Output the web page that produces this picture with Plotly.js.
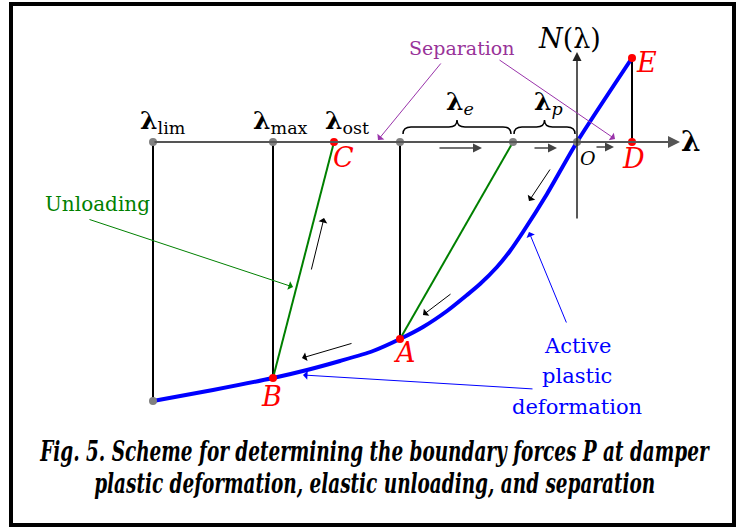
<!DOCTYPE html>
<html>
<head>
<meta charset="utf-8">
<script src="https://cdn.plot.ly/plotly-3.0.1.min.js"></script>
<style>html,body{margin:0;padding:0;background:#fff}#chart{width:736px;height:528px}</style>
</head>
<body>
<div id="chart"></div>
<script>
// Coordinates: lambda (horizontal) and N (vertical), origin at O
var curveLam = [-424,-364,-304,-270,-237,-204,-177,-154,-130,-110,-97,-80,-67,-54,-30,0,55];
var curveN   = [-259,-248,-236,-228,-219,-209,-197,-185,-169,-153,-142,-125,-109,-90,-52,0,84];

var lamLim = -424, lamMax = -304, lamOst = -243, lamA = -177, lamE = -64, lamD = 55;
var nB = -236, nA = -197, nLimBottom = -259, nE = 84;

var greyDotLam = [lamLim, lamMax, lamA, lamE, 0, lamLim];
var greyDotN   = [0, 0, 0, 0, 0, nLimBottom];
var redDotLam  = [lamOst, lamD, lamD, lamA, lamMax];
var redDotN    = [0, 0, nE, nA, nB];
var redLabels  = ['C','D','E','A','B'];
var redLabelLam = [-234, 56, 69, -173, -306];
var redLabelN   = [-15, -16, 80, -210, -254];

var topLabels = ['<b>λ</b><sub>lim</sub>','<b>λ</b><sub>max</sub>','<b>λ</b><sub>ost</sub>'];
var topLabelLam = [-414, -297, -230];

var activeLines = ['Active','plastic','deformation'];
var activeLineN = [-204, -234, -265];

var captionLines = ['Fig. 5. Scheme for determining the boundary forces P at damper',
                    'plastic deformation, elastic unloading, and separation'];
var captionN = [-309, -341];

// direction arrows: [tailLam, tailN, headLam, headN]
var axisArrows = [[-139,-6,-95,-6],[-44,-6,-20,-6],[18,-5,37,-5]];
var pathArrows = [[-26,-26,-48,-59],[-125,-151,-154,-173],[-224,-201,-275,-216],[-266,-129,-253,-76]];
var sepArrows = [[-135,80,-199,2],[-79,83,38,3]];
var unloadArrow = [-489,-77,-284,-145];
var activeArrows = [[-10,-182,-48,-90],[-43,-247,-274,-233]];

var braces = [[-174,-66],[-63,-2]];

var serif = 'DejaVu Serif';
var condensed = 'DejaVu Serif Condensed';

var traces = [
  {x:[lamLim,lamLim], y:[0,nLimBottom], mode:'lines', line:{color:'#000',width:2}},
  {x:[lamMax,lamMax], y:[0,nB], mode:'lines', line:{color:'#000',width:2}},
  {x:[lamA,lamA], y:[0,nA], mode:'lines', line:{color:'#000',width:2}},
  {x:[lamD,lamD], y:[0,nE], mode:'lines', line:{color:'#000',width:2}},
  {x:[lamOst,lamMax], y:[0,nB], mode:'lines', line:{color:'#008000',width:2}},
  {x:[lamE,lamA], y:[0,nA], mode:'lines', line:{color:'#008000',width:2}},
  {x:curveLam, y:curveN, mode:'lines', line:{color:'#0000ff',width:4, shape:'spline', smoothing:0.7}},
  {x:greyDotLam, y:greyDotN, mode:'markers', marker:{color:'#808080',size:8}},
  {x:redDotLam, y:redDotN, mode:'markers', marker:{color:'#ff0000',size:8}}
];

function arrowAnn(a, color, width, head, size) {
  return {x:a[2], y:a[3], ax:a[0], ay:a[1], xref:'x', yref:'y', axref:'x', ayref:'y',
          text:'', showarrow:true, arrowhead:head, arrowsize:size, arrowwidth:width,
          arrowcolor:color, standoff:0, startstandoff:0};
}

var ann = [];
ann.push(arrowAnn([lamLim,0,103,0], '#555', 2, 2, 1.2));
ann.push(arrowAnn([0,-78,0,90], '#222', 1.5, 2, 1.2));
axisArrows.forEach(function(a){ann.push(arrowAnn(a,'#444',1.5,2,1.2));});
pathArrows.forEach(function(a){ann.push(arrowAnn(a,'#000',1,1,1.5));});
sepArrows.forEach(function(a){ann.push(arrowAnn(a,'#9933aa',1,1,1.5));});
ann.push(arrowAnn(unloadArrow,'#008000',1,1,1.5));
activeArrows.forEach(function(a){ann.push(arrowAnn(a,'#0000ff',1,1,1.5));});

function txt(t, x, y, size, color, fam) {
  return {x:x, y:y, xref:'x', yref:'y', text:t, showarrow:false,
          font:{family:fam||serif, size:size, color:color}, xanchor:'center', yanchor:'middle'};
}
for (var i=0;i<redLabels.length;i++) ann.push(txt('<i>'+redLabels[i]+'</i>', redLabelLam[i], redLabelN[i], 27, '#ff0000'));
for (var j=0;j<topLabels.length;j++) ann.push(txt(topLabels[j], topLabelLam[j], 20, 25, '#000'));
ann.push(txt('<i>O</i>', 11, -16, 19, '#000'));
ann.push(txt('<b>λ</b>', 114, 1, 28, '#000'));
ann.push(txt('<i>N</i>(λ)', -8, 104, 27, '#000'));
ann.push(txt('<b>λ</b><sub><i>e</i></sub>', -117, 39, 25, '#000'));
ann.push(txt('<b>λ</b><sub><i>p</i></sub>', -29, 39, 25, '#000'));
ann.push(txt('Separation', -115, 94, 19, '#993399'));
ann.push(txt('Unloading', -480, -62, 20, '#008000'));
for (var k=0;k<activeLines.length;k++) ann.push(txt(activeLines[k], 0, activeLineN[k], 21, '#0000ff'));
var captionStart = ann.length;
for (var c=0;c<captionLines.length;c++) ann.push(txt('<b><i>'+captionLines[c]+'</i></b>', -203, captionN[c], 20.5, '#000', condensed));

function bracePath(x1, x2) {
  var y0 = 8, ym = 15, yt = 22, r = 8, m = (x1+x2)/2;
  return 'M'+x1+','+y0+' Q'+x1+','+ym+' '+(x1+r)+','+ym+' L'+(m-r)+','+ym+
         ' Q'+m+','+ym+' '+m+','+yt+' Q'+m+','+ym+' '+(m+r)+','+ym+
         ' L'+(x2-r)+','+ym+' Q'+x2+','+ym+' '+x2+','+y0;
}
var shapes = braces.map(function(b){
  return {type:'path', xref:'x', yref:'y', path:bracePath(b[0],b[1]), line:{color:'#000',width:1.5}};
});
shapes.push({type:'rect', xref:'x', yref:'y', x0:-566, x1:157, y0:138, y1:-383, line:{color:'#000',width:4}});

var layout = {
  width:736, height:528, margin:{l:0,r:0,t:0,b:0},
  font:{family:serif},
  paper_bgcolor:'#fff', plot_bgcolor:'#fff', showlegend:false,
  xaxis:{range:[-577,159], visible:false, fixedrange:true},
  yaxis:{range:[-386,142], visible:false, fixedrange:true},
  annotations:ann, shapes:shapes
};
Plotly.newPlot('chart', traces, layout, {staticPlot:true}).then(function(gd){
  // stretch the caption vertically to match the tall typeface of the original
  for (var c=0;c<captionLines.length;c++) {
    var t = gd.querySelector('g.annotation[data-index="'+(captionStart+c)+'"] text');
    if (t) {
      t.style.transformBox = 'fill-box';
      t.style.transformOrigin = 'center';
      t.style.transform = 'scale(1,1.4)';
    }
  }
});
</script>
</body>
</html>
